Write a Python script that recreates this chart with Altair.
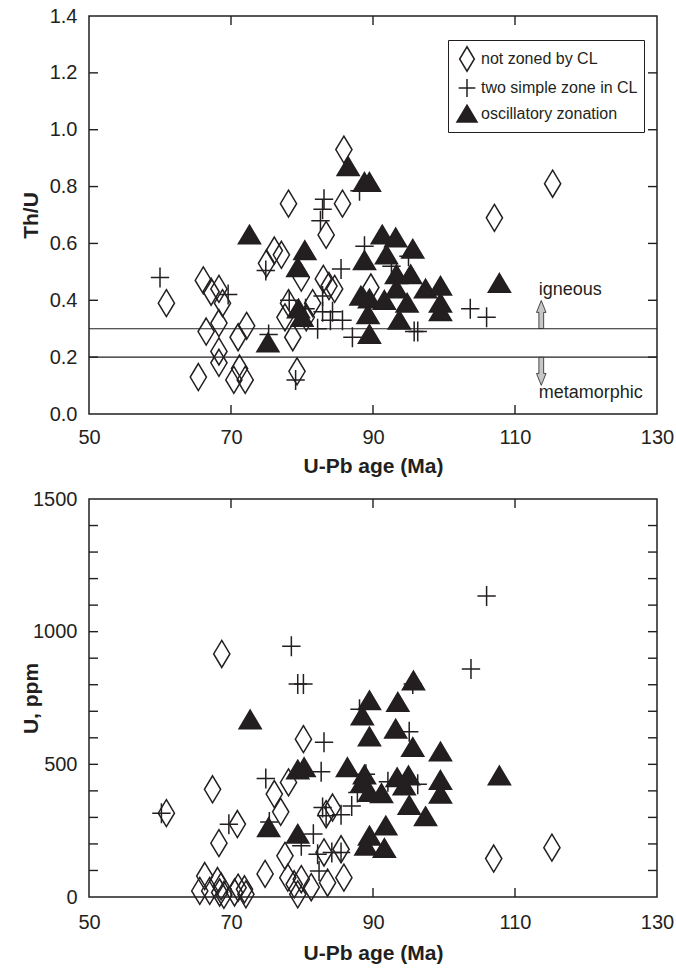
import altair as alt
import pandas as pd

# ---------------- data ----------------
ZONES = ["not zoned by CL", "two simple zone in CL", "oscillatory zonation"]

# Upper panel: Th/U vs U-Pb age
top_diamond_age = [60.9, 66.1, 67.2, 68.3, 68.8, 66.5, 68.3, 68.3, 68.3, 65.4, 71.0, 72.2, 70.4, 71.2,
                   72.0, 75.0, 76.1, 77.1, 78.1, 77.6, 78.7, 79.9, 80.6, 81.5, 79.3, 83.4, 83.0, 83.8,
                   84.6, 78.1, 85.7, 85.9, 89.7, 107.1, 115.3]
top_diamond_thu = [0.39, 0.47, 0.43, 0.44, 0.39, 0.29, 0.32, 0.22, 0.18, 0.13, 0.27, 0.31, 0.12, 0.16,
                   0.12, 0.53, 0.575, 0.56, 0.39, 0.34, 0.27, 0.48, 0.34, 0.39, 0.15, 0.63, 0.475, 0.45,
                   0.44, 0.74, 0.74, 0.93, 0.445, 0.69, 0.81]
top_cross_age = [60.0, 69.6, 74.9, 75.3, 78.2, 79.1, 80.5, 82.2, 82.9, 82.9, 83.1, 82.9, 82.6, 84.3,
                 84.0, 85.7, 85.5, 87.1, 88.8, 88.1, 92.6, 95.0, 95.8, 96.3, 103.7, 106.0]
top_cross_thu = [0.48, 0.42, 0.505, 0.28, 0.40, 0.12, 0.37, 0.30, 0.415, 0.36, 0.755, 0.72, 0.68, 0.36,
                 0.33, 0.33, 0.51, 0.27, 0.59, 0.785, 0.52, 0.555, 0.29, 0.29, 0.37, 0.34]
top_tri_age = [72.6, 75.2, 79.4, 80.4, 79.5, 80.0, 86.5, 88.8, 89.5, 91.3, 93.2, 95.6, 91.9, 88.8, 93.3,
               95.3, 93.3, 97.4, 99.5, 88.3, 89.5, 91.6, 94.8, 99.5, 99.5, 89.3, 93.7, 89.5, 107.8]
top_tri_thu = [0.63, 0.25, 0.515, 0.575, 0.37, 0.34, 0.87, 0.815, 0.815, 0.63, 0.62, 0.58, 0.56, 0.54,
               0.49, 0.49, 0.44, 0.44, 0.45, 0.415, 0.405, 0.40, 0.39, 0.39, 0.36, 0.35, 0.33, 0.28, 0.46]

# Lower panel: U (ppm) vs U-Pb age
bot_diamond_age = [60.9, 67.4, 68.3, 70.9, 68.7, 80.2, 78.1, 76.1, 77.0, 74.8, 77.6, 78.0, 78.9, 79.9,
                   81.3, 83.6, 85.9, 83.1, 85.5, 83.4, 84.3, 65.6, 66.3, 67.0, 68.1, 68.4, 68.6, 70.5,
                   71.0, 71.9, 72.1, 79.4, 107.0, 115.2, 69.0]
bot_diamond_u = [316, 406, 203, 275, 916, 595, 432, 388, 321, 87, 155, 73, 48, 67,
                 37, 54, 73, 168, 180, 312, 337, 23, 79, 23, 60, 17, 40, 17,
                 35, 29, 10, 10, 145, 186, 8]
bot_cross_age = [60.2, 69.7, 74.9, 75.4, 78.5, 79.4, 80.2, 79.9, 81.6, 82.2, 82.4, 82.7, 83.1, 82.9,
                 83.4, 84.2, 85.5, 85.5, 87.0, 88.1, 87.8, 89.0, 92.1, 95.1, 96.3, 95.6, 103.8, 106.0]
bot_cross_u = [316, 274, 447, 283, 945, 803, 803, 193, 237, 161, 98, 472, 583, 337,
               306, 168, 168, 310, 343, 708, 394, 463, 434, 623, 425, 803, 859, 1134]
bot_tri_age = [72.7, 75.3, 79.4, 80.3, 79.4, 86.4, 88.5, 89.5, 93.5, 95.7, 93.2, 89.5, 95.6, 99.5, 88.8,
               88.5, 93.4, 95.0, 99.5, 94.4, 89.5, 91.2, 99.5, 95.1, 97.4, 91.8, 89.5, 89.0, 91.6, 107.8]
bot_tri_u = [668, 262, 479, 488, 237, 488, 683, 740, 734, 815, 633, 604, 564, 547, 460,
             432, 450, 457, 440, 419, 394, 390, 388, 345, 303, 268, 230, 192, 183, 457]

# axes / annotations
x_labels = [50, 70, 90, 110, 130]
x_ticks = [70, 90, 110]
top_y_labels = [0.0, 0.2, 0.4, 0.6, 0.8, 1.0, 1.2, 1.4]
top_y_ticks = [0.2, 0.4, 0.6, 0.8, 1.0, 1.2]
bot_y_labels = [0, 500, 1000, 1500]
bot_y_ticks = [100, 200, 300, 400, 500, 600, 700, 800, 900, 1000, 1100, 1200, 1300, 1400]
ref_lines = [0.2, 0.3]
ann_text = ["igneous", "metamorphic"]
ann_age = [113.35, 113.35]
ann_thu = [0.42, 0.055]
arrow_age = [113.7, 113.7]
arrow_thu = [0.35, 0.15]

# ---------------- styling ----------------
INK = "#231f20"
FONT = "Liberation Sans"
W, H = 568, 398
TICK = 9
DIAMOND = "M0,-1L0.6,0L0,1L-0.6,0Z"
CROSS = "M-0.68,0L0.68,0M0,-0.74L0,0.74"
TRIANGLE = "M0,-0.72L0.82,0.66L-0.82,0.66Z"
UP_ARROW = "M-0.17,1L0.17,1L0.17,-0.15L0.34,-0.15L0,-1L-0.34,-0.15L-0.17,-0.15Z"
DOWN_ARROW = "M-0.17,-1L0.17,-1L0.17,0.15L0.34,0.15L0,1L-0.34,0.15L-0.17,0.15Z"

xscale = alt.Scale(domain=[50, 130], nice=False, zero=False)
top_yscale = alt.Scale(domain=[0, 1.4], nice=False, zero=False)
bot_yscale = alt.Scale(domain=[0, 1500], nice=False, zero=False)


def x_axis(label_pad, title_pad):
    return alt.Axis(title="U-Pb age (Ma)", values=x_labels, format="d", ticks=False, domain=False,
                    grid=False, labelFlush=False, labelPadding=label_pad, titlePadding=title_pad)


def y_axis(title, values, fmt):
    return alt.Axis(title=title, values=values, format=fmt, ticks=False, domain=False, grid=False,
                    labelFlush=False, labelPadding=12, titleX=-48)


top_x_axis = x_axis(13, 8)
bot_x_axis = x_axis(15, 10)
top_y_axis = y_axis("Th/U", top_y_labels, ".1f")
bot_y_axis = y_axis("U, ppm", bot_y_labels, "d")


def zone_df(groups, ycol):
    frames = []
    for zone, ages, vals in groups:
        frames.append(pd.DataFrame({"age": ages, ycol: vals, "zone": zone}))
    return pd.concat(frames, ignore_index=True)


top_df = zone_df([(ZONES[0], top_diamond_age, top_diamond_thu),
                  (ZONES[1], top_cross_age, top_cross_thu),
                  (ZONES[2], top_tri_age, top_tri_thu)], "thu")
bot_df = zone_df([(ZONES[0], bot_diamond_age, bot_diamond_u),
                  (ZONES[1], bot_cross_age, bot_cross_u),
                  (ZONES[2], bot_tri_age, bot_tri_u)], "u")


def points(df, ycol, yscale, xaxis, yaxis, legend):
    return alt.Chart(df).mark_point(filled=True, size=729, strokeWidth=1.5, opacity=1).encode(
        x=alt.X("age:Q", scale=xscale, axis=xaxis),
        y=alt.Y(f"{ycol}:Q", scale=yscale, axis=yaxis),
        shape=alt.Shape("zone:N", scale=alt.Scale(domain=ZONES, range=[DIAMOND, CROSS, TRIANGLE]),
                        legend=legend),
        fill=alt.Fill("zone:N", scale=alt.Scale(domain=ZONES, range=["transparent", "transparent", INK]),
                      legend=legend),
        stroke=alt.Stroke("zone:N", scale=alt.Scale(domain=ZONES, range=[INK, INK, INK]), legend=legend),
    )


def tick_layers(yvals, yscale, xaxis, yaxis):
    yd = pd.DataFrame({"v": yvals})
    xd = pd.DataFrame({"v": x_ticks})
    rule = dict(color=INK, strokeWidth=1.4)
    left = alt.Chart(yd).mark_rule(**rule).encode(
        y=alt.Y("v:Q", scale=yscale, axis=yaxis), x=alt.value(0), x2=alt.value(TICK))
    right = alt.Chart(yd).mark_rule(**rule).encode(
        y=alt.Y("v:Q", scale=yscale, axis=yaxis), x=alt.value(W - TICK), x2=alt.value(W))
    bottom = alt.Chart(xd).mark_rule(**rule).encode(
        x=alt.X("v:Q", scale=xscale, axis=xaxis), y=alt.value(H), y2=alt.value(H - TICK))
    top = alt.Chart(xd).mark_rule(**rule).encode(
        x=alt.X("v:Q", scale=xscale, axis=xaxis), y=alt.value(0), y2=alt.value(TICK))
    return [left, right, bottom, top]


legend = alt.Legend(title=None, orient="none", legendX=359, legendY=24, direction="vertical",
                    strokeColor=INK, fillColor="white", padding=6, rowPadding=0,
                    labelFont=FONT, labelFontSize=16, labelColor=INK, labelOffset=1, labelLimit=400,
                    symbolSize=600, symbolStrokeWidth=1.5)

ref_df = pd.DataFrame({"v": ref_lines})
refs = alt.Chart(ref_df).mark_rule(color=INK, strokeWidth=1.1).encode(
    y=alt.Y("v:Q", scale=top_yscale, axis=top_y_axis))

ann_df = pd.DataFrame({"age": ann_age, "thu": ann_thu, "txt": ann_text})
ann = alt.Chart(ann_df).mark_text(align="left", baseline="alphabetic", font=FONT, fontSize=18,
                                  color=INK).encode(
    x=alt.X("age:Q", scale=xscale, axis=top_x_axis),
    y=alt.Y("thu:Q", scale=top_yscale, axis=top_y_axis),
    text="txt:N")

arr_df = pd.DataFrame({"age": arrow_age, "thu": arrow_thu, "dir": ["up", "down"]})
arrow_up = alt.Chart(arr_df).transform_filter(alt.datum.dir == "up").mark_point(
    shape=UP_ARROW, size=784, filled=True, fill="#c4c6c8", stroke=INK, strokeWidth=0.8, opacity=1
).encode(x=alt.X("age:Q", scale=xscale, axis=top_x_axis),
         y=alt.Y("thu:Q", scale=top_yscale, axis=top_y_axis))
arrow_down = alt.Chart(arr_df).transform_filter(alt.datum.dir == "down").mark_point(
    shape=DOWN_ARROW, size=784, filled=True, fill="#c4c6c8", stroke=INK, strokeWidth=0.8, opacity=1
).encode(x=alt.X("age:Q", scale=xscale, axis=top_x_axis),
         y=alt.Y("thu:Q", scale=top_yscale, axis=top_y_axis))

top_chart = alt.layer(
    points(top_df, "thu", top_yscale, top_x_axis, top_y_axis, legend),
    refs, *tick_layers(top_y_ticks, top_yscale, top_x_axis, top_y_axis), arrow_up, arrow_down, ann,
).properties(width=W, height=H)

bot_chart = alt.layer(
    points(bot_df, "u", bot_yscale, bot_x_axis, bot_y_axis, None),
    *tick_layers(bot_y_ticks, bot_yscale, bot_x_axis, bot_y_axis),
).properties(width=W, height=H)

chart = alt.vconcat(top_chart, bot_chart, spacing=11).resolve_scale(
    shape="independent", fill="independent", stroke="independent"
).resolve_legend(
    shape="independent", fill="independent", stroke="independent"
).properties(
    padding={"left": 19, "top": 5, "right": 0, "bottom": 0}, background="white"
).configure_axis(
    labelFont=FONT, labelFontSize=20, labelColor=INK,
    titleFont=FONT, titleFontSize=21, titleFontWeight="bold", titleColor=INK
).configure_view(stroke=INK, strokeWidth=1.5)

chart.save("out.html", embed_options={"renderer": "svg", "actions": False})
